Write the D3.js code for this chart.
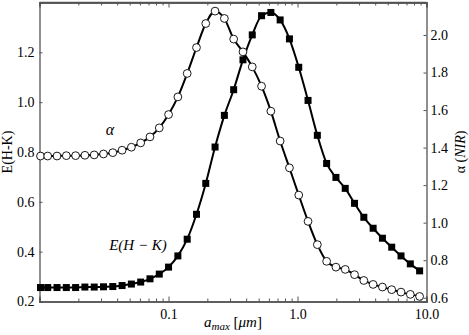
<!DOCTYPE html>
<html>
<head>
<meta charset="utf-8">
<script src="https://cdn.jsdelivr.net/npm/d3@7"></script>
<style>
  body { margin: 0; background: #fff; }
</style>
</head>
<body>
<div id="chart"></div>
<script>
// grain size a_max (micron)
const amax = [0.01018, 0.01158, 0.01367, 0.01614, 0.01905, 0.02249, 0.02655, 0.03134,
  0.03700, 0.04368, 0.05156, 0.06087, 0.07186, 0.08483, 0.1001, 0.1182, 0.1396,
  0.1648, 0.1945, 0.2296, 0.2711, 0.3200, 0.3778, 0.4460, 0.5265, 0.6215, 0.7337,
  0.8661, 1.0225, 1.207, 1.425, 1.682, 1.986, 2.344, 2.768, 3.267, 3.857, 4.553,
  5.375, 6.345, 7.491, 8.843];

// alpha (NIR), right axis
const alpha = [1.355, 1.355, 1.355, 1.357, 1.357, 1.359, 1.361, 1.366, 1.373, 1.386,
  1.402, 1.425, 1.457, 1.505, 1.576, 1.670, 1.795, 1.933, 2.061, 2.127, 2.088, 1.978,
  1.910, 1.830, 1.727, 1.594, 1.435, 1.292, 1.147, 1.007, 0.883, 0.794, 0.763, 0.751,
  0.723, 0.692, 0.671, 0.657, 0.643, 0.630, 0.618, 0.607];

// E(H-K), left axis
const ehk = [0.256, 0.256, 0.256, 0.256, 0.256, 0.258, 0.258, 0.259, 0.260, 0.264,
  0.270, 0.278, 0.291, 0.310, 0.338, 0.383, 0.450, 0.550, 0.674, 0.820, 0.947, 1.050,
  1.170, 1.270, 1.347, 1.360, 1.330, 1.254, 1.140, 1.007, 0.867, 0.754, 0.698, 0.654,
  0.594, 0.538, 0.494, 0.454, 0.418, 0.383, 0.351, 0.323];

const xTicks = [0.1, 1, 10];
const leftTicks = [0.2, 0.4, 0.6, 0.8, 1.0, 1.2];
const rightTicks = [0.6, 0.8, 1.0, 1.2, 1.4, 1.6, 1.8, 2.0];

const width = 469, height = 335,
      margin = ({top: 2.5, right: 42.5, bottom: 33.5, left: 39.5});
const serif = "'Liberation Serif', 'Times New Roman', 'DejaVu Serif', serif";

let svg = d3.select("#chart")
    .append("svg")
    .attr("width", width)
    .attr("height", height)
    .style("font-family", serif);

let x = d3.scaleLog()
    .domain([0.01, 10])
    .range([margin.left, width - margin.right]);

let yL = d3.scaleLinear()
    .domain([0.2, 1.4])
    .range([height - margin.bottom, margin.top]);

let yR = d3.scaleLinear()
    .domain([0.58, 2.173])
    .range([height - margin.bottom, margin.top]);

const axisColor = "#555";
const minor = x.ticks().filter(t => !xTicks.some(m => Math.abs(m - t) < 1e-9));

// bottom axis (major + minor, inward)
svg.append("g")
    .attr("transform", `translate(0,${height - margin.bottom})`)
    .call(d3.axisBottom(x).tickValues(xTicks).tickSize(-5).tickPadding(8)
        .tickFormat(d3.format(".1f")));
svg.append("g")
    .attr("transform", `translate(0,${height - margin.bottom})`)
    .call(d3.axisBottom(x).tickValues(minor).tickSize(-3).tickFormat(""));

// top axis, ticks only
svg.append("g")
    .attr("transform", `translate(0,${margin.top})`)
    .call(d3.axisTop(x).tickValues(xTicks).tickSize(-5).tickFormat(""));
svg.append("g")
    .attr("transform", `translate(0,${margin.top})`)
    .call(d3.axisTop(x).tickValues(minor).tickSize(-3).tickFormat(""));

// left axis
svg.append("g")
    .attr("transform", `translate(${margin.left},0)`)
    .call(d3.axisLeft(yL).tickValues(leftTicks).tickSize(-3).tickPadding(5)
        .tickFormat(d3.format(".1f")));

// right axis
svg.append("g")
    .attr("transform", `translate(${width - margin.right},0)`)
    .call(d3.axisRight(yR).tickValues(rightTicks).tickSize(-3).tickPadding(4)
        .tickFormat(d3.format(".1f")));

svg.selectAll(".domain").attr("stroke", axisColor).attr("stroke-width", 1.3);
svg.selectAll(".tick line").attr("stroke", axisColor);
svg.selectAll(".tick text").attr("font-size", 14).attr("fill", "#000");

// frame on top edge
svg.append("line")
    .attr("x1", margin.left).attr("x2", width - margin.right)
    .attr("y1", margin.top).attr("y2", margin.top)
    .attr("stroke", axisColor).attr("stroke-width", 1.3);

const pts = amax.map((a, i) => ({a: a, al: alpha[i], e: ehk[i]}));

// E(H-K) curve with filled squares
svg.append("path")
    .datum(pts)
    .attr("fill", "none")
    .attr("stroke", "#000")
    .attr("stroke-width", 2)
    .attr("d", d3.line().x(d => x(d.a)).y(d => yL(d.e)).curve(d3.curveMonotoneX));

svg.selectAll(".sq")
    .data(pts)
    .join("rect")
    .attr("class", "sq")
    .attr("x", d => x(d.a) - 3.5)
    .attr("y", d => yL(d.e) - 3.5)
    .attr("width", 7)
    .attr("height", 7)
    .attr("fill", "#000");

// alpha curve with open circles
svg.append("path")
    .datum(pts)
    .attr("fill", "none")
    .attr("stroke", "#000")
    .attr("stroke-width", 2)
    .attr("d", d3.line().x(d => x(d.a)).y(d => yR(d.al)).curve(d3.curveMonotoneX));

svg.selectAll(".circ")
    .data(pts)
    .join("circle")
    .attr("class", "circ")
    .attr("cx", d => x(d.a))
    .attr("cy", d => yR(d.al))
    .attr("r", 3.9)
    .attr("fill", "#fff")
    .attr("stroke", "#000")
    .attr("stroke-width", 0.9);

// in-plot labels
svg.append("text")
    .attr("x", 110).attr("y", 135)
    .attr("font-size", 16).attr("font-style", "italic")
    .attr("text-anchor", "middle")
    .text("α");

svg.append("text")
    .attr("x", 138).attr("y", 250)
    .attr("font-size", 15).attr("font-style", "italic")
    .attr("text-anchor", "middle")
    .text("E(H − K)");

// axis titles
let xl = svg.append("text")
    .attr("x", 233).attr("y", 327)
    .attr("font-size", 15)
    .attr("text-anchor", "middle");
xl.append("tspan").attr("font-style", "italic").text("a");
xl.append("tspan").attr("font-style", "italic").attr("font-size", 11).attr("dy", 3).text("max");
xl.append("tspan").attr("dy", -3).text(" [");
xl.append("tspan").attr("font-style", "italic").text("μm");
xl.append("tspan").text("]");

svg.append("text")
    .attr("transform", `translate(12,${(margin.top + height - margin.bottom) / 2}) rotate(-90)`)
    .attr("font-size", 14)
    .attr("text-anchor", "middle")
    .text("E(H-K)");

let yr = svg.append("text")
    .attr("transform", `translate(465,${(margin.top + height - margin.bottom) / 2}) rotate(-90)`)
    .attr("font-size", 14)
    .attr("text-anchor", "middle");
yr.append("tspan").text("α (");
yr.append("tspan").attr("font-style", "italic").text("NIR");
yr.append("tspan").text(")");

// axis groups set their own font-family attribute; override with style
svg.selectAll("g, text").style("font-family", serif);
</script>
</body>
</html>
